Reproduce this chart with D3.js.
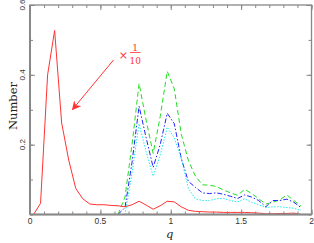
<!DOCTYPE html>
<html><head><meta charset="utf-8">
<script src="https://cdn.jsdelivr.net/npm/d3@7"></script>
<style>body{margin:0;background:#fff}svg{display:block}</style>
</head><body>
<script>
const redQ = [0.025,0.075,0.125,0.175,0.225,0.275,0.325,0.375,0.425,0.475,0.525,0.575,0.625,0.675,0.725,0.775,0.825,0.875,0.925,0.975,1.025,1.075,1.125,1.175,1.225,1.275,1.325,1.375,1.425,1.475,1.525,1.575,1.625,1.675,1.725,1.775,1.825,1.875,1.925];
const redY = [0,0.032,0.40,0.527,0.262,0.156,0.075,0.045,0.030,0.028,0.028,0.026,0.025,0.022,0.028,0.038,0.027,0.015,0.025,0.038,0.036,0.022,0.012,0.009,0.008,0.007,0.007,0.006,0.006,0.006,0.006,0.005,0.004,0.002,0.002,0.003,0.003,0.004,0.0];
const hiQ = [0.625,0.675,0.725,0.775,0.825,0.875,0.925,0.975,1.025,1.075,1.125,1.175,1.225,1.275,1.325,1.375,1.425,1.475,1.525,1.575,1.625,1.675,1.725,1.775,1.825,1.875,1.925];
const greenY = [0,0.05,0.20,0.375,0.27,0.175,0.28,0.41,0.36,0.23,0.155,0.11,0.085,0.084,0.08,0.07,0.062,0.055,0.072,0.06,0.045,0.03,0.035,0.042,0.056,0.04,0.024];
const blueY  = [0,0.02,0.15,0.31,0.22,0.135,0.20,0.29,0.26,0.16,0.095,0.078,0.062,0.06,0.062,0.058,0.052,0.046,0.056,0.05,0.04,0.022,0.04,0.04,0.044,0.035,0.02];
const cyanY  = [null,0,0.12,0.26,0.18,0.11,0.17,0.25,0.22,0.16,0.075,0.045,0.04,0.04,0.045,0.046,0.04,0.036,0.045,0.035,0.028,0.02,0.022,0.022,0.02,0.018,0.011];
const xTicks = [0,0.5,1,1.5,2];
const xTickLabels = ["0","0.5","1","1.5","2"];
const yTicks = [0.2,0.4,0.6];
const yTickLabels = ["0.2","0.4","0.6"];

const W=314,H=243;
const m={l:30,r:2.5,t:5,b:28.5};
const svg=d3.select("body").append("svg").attr("width",W).attr("height",H);
const x=d3.scaleLinear().domain([0,2]).range([m.l,W-m.r]);
const y=d3.scaleLinear().domain([0,0.6]).range([H-m.b,m.t]);
const axisCol="#888";

const line=d3.line().defined(d=>d[1]!=null).x(d=>x(d[0])).y(d=>y(d[1]));
const pair=(qs,ys)=>qs.map((q,i)=>[q,ys[i]]);

svg.append("path").datum(pair(hiQ,greenY)).attr("d",line).attr("fill","none")
  .attr("stroke","#22dd22").attr("stroke-width",1).attr("stroke-dasharray","5,3");
svg.append("path").datum(pair(hiQ,blueY)).attr("d",line).attr("fill","none")
  .attr("stroke","#2222ff").attr("stroke-width",1).attr("stroke-dasharray","5,2,1.5,2");
svg.append("path").datum(pair(hiQ,cyanY)).attr("d",line).attr("fill","none")
  .attr("stroke","#22eeee").attr("stroke-width",1).attr("stroke-dasharray","1.5,1.5");
svg.append("path").datum(pair(redQ,redY)).attr("d",line).attr("fill","none")
  .attr("stroke","#ff3333").attr("stroke-width",1);

// frame
const g=svg.append("g");
g.append("rect").attr("x",x(0)).attr("y",y(0.6)).attr("width",x(2)-x(0)).attr("height",y(0)-y(0.6))
  .attr("fill","none").attr("stroke",axisCol).attr("stroke-width",1.3);
g.append("line").attr("x1",x(0)).attr("x2",x(0)).attr("y1",y(0.6)).attr("y2",y(0)).attr("stroke",axisCol).attr("stroke-width",2);
g.append("line").attr("x1",x(0)).attr("x2",x(2)).attr("y1",y(0)).attr("y2",y(0)).attr("stroke",axisCol).attr("stroke-width",2);

const xMinor=d3.range(0,2.0001,0.1);
const yMinor=d3.range(0,0.6001,0.1);
function tickAxis(axis,tr){
  const a=svg.append("g").attr("transform",tr).call(axis);
  a.select(".domain").remove();
  a.selectAll("line").attr("stroke",axisCol);
  a.selectAll("text").remove();
}
tickAxis(d3.axisBottom(x).tickValues(xMinor).tickSize(-3),`translate(0,${y(0)})`);
tickAxis(d3.axisTop(x).tickValues(xMinor).tickSize(-3),`translate(0,${y(0.6)})`);
tickAxis(d3.axisBottom(x).tickValues(xTicks).tickSize(-5),`translate(0,${y(0)})`);
tickAxis(d3.axisTop(x).tickValues(xTicks).tickSize(-5),`translate(0,${y(0.6)})`);
tickAxis(d3.axisLeft(y).tickValues(yMinor).tickSize(-3),`translate(${x(0)},0)`);
tickAxis(d3.axisRight(y).tickValues(yMinor).tickSize(-3),`translate(${x(2)},0)`);
tickAxis(d3.axisLeft(y).tickValues(yTicks).tickSize(-5),`translate(${x(0)},0)`);
tickAxis(d3.axisRight(y).tickValues(yTicks).tickSize(-5),`translate(${x(2)},0)`);

svg.append("g").selectAll("text").data(xTicks).join("text")
  .attr("x",d=>x(d)).attr("y",y(0)+9.5).attr("text-anchor","middle")
  .attr("font-family","Liberation Sans, Arial, sans-serif").attr("font-size",8.5).attr("fill","#333")
  .text((d,i)=>xTickLabels[i]);
svg.append("g").selectAll("text").data(yTicks).join("text")
  .attr("transform",d=>`translate(${x(0)-5},${y(d)}) rotate(-90)`).attr("text-anchor","middle")
  .attr("font-family","Liberation Sans, Arial, sans-serif").attr("font-size",8).attr("fill","#333")
  .text((d,i)=>yTickLabels[i]);

svg.append("text").attr("transform",`translate(17,106) rotate(-90)`).attr("text-anchor","middle")
  .attr("font-family","DejaVu Serif, serif").attr("font-size",11.5).attr("fill","#222").text("Number");
svg.append("text").attr("x",x(1)-1).attr("y",238).attr("text-anchor","middle")
  .attr("font-family","DejaVu Serif, serif").attr("font-style","italic").attr("font-size",11.5).attr("fill","#222").text("q");

const red="#ff3333";
const defs=svg.append("defs");
defs.append("marker").attr("id","ah").attr("viewBox","0 0 10 10").attr("refX",9).attr("refY",5)
  .attr("markerWidth",10).attr("markerHeight",9).attr("markerUnits","userSpaceOnUse").attr("orient","auto")
  .append("path").attr("d","M0,0 L10,5 L0,10 L3,5 Z").attr("fill",red);
svg.append("line").attr("x1",113.5).attr("y1",60).attr("x2",72.5).attr("y2",109.5)
  .attr("stroke",red).attr("stroke-width",1).attr("marker-end","url(#ah)");
svg.append("text").attr("x",123.3).attr("y",58.5).attr("text-anchor","middle")
  .attr("font-family","DejaVu Serif, serif").attr("font-size",11).attr("fill",red).text("×");
svg.append("text").attr("x",135.2).attr("y",50.5).attr("text-anchor","middle")
  .attr("font-family","DejaVu Serif, serif").attr("font-size",9).attr("fill",red).text("1");
svg.append("line").attr("x1",130).attr("x2",140.5).attr("y1",52.5).attr("y2",52.5).attr("stroke",red).attr("stroke-width",0.8);
svg.append("text").attr("x",135.2).attr("y",63.5).attr("text-anchor","middle")
  .attr("font-family","DejaVu Serif, serif").attr("font-size",9).attr("fill",red).text("10");
</script>
</body></html>
